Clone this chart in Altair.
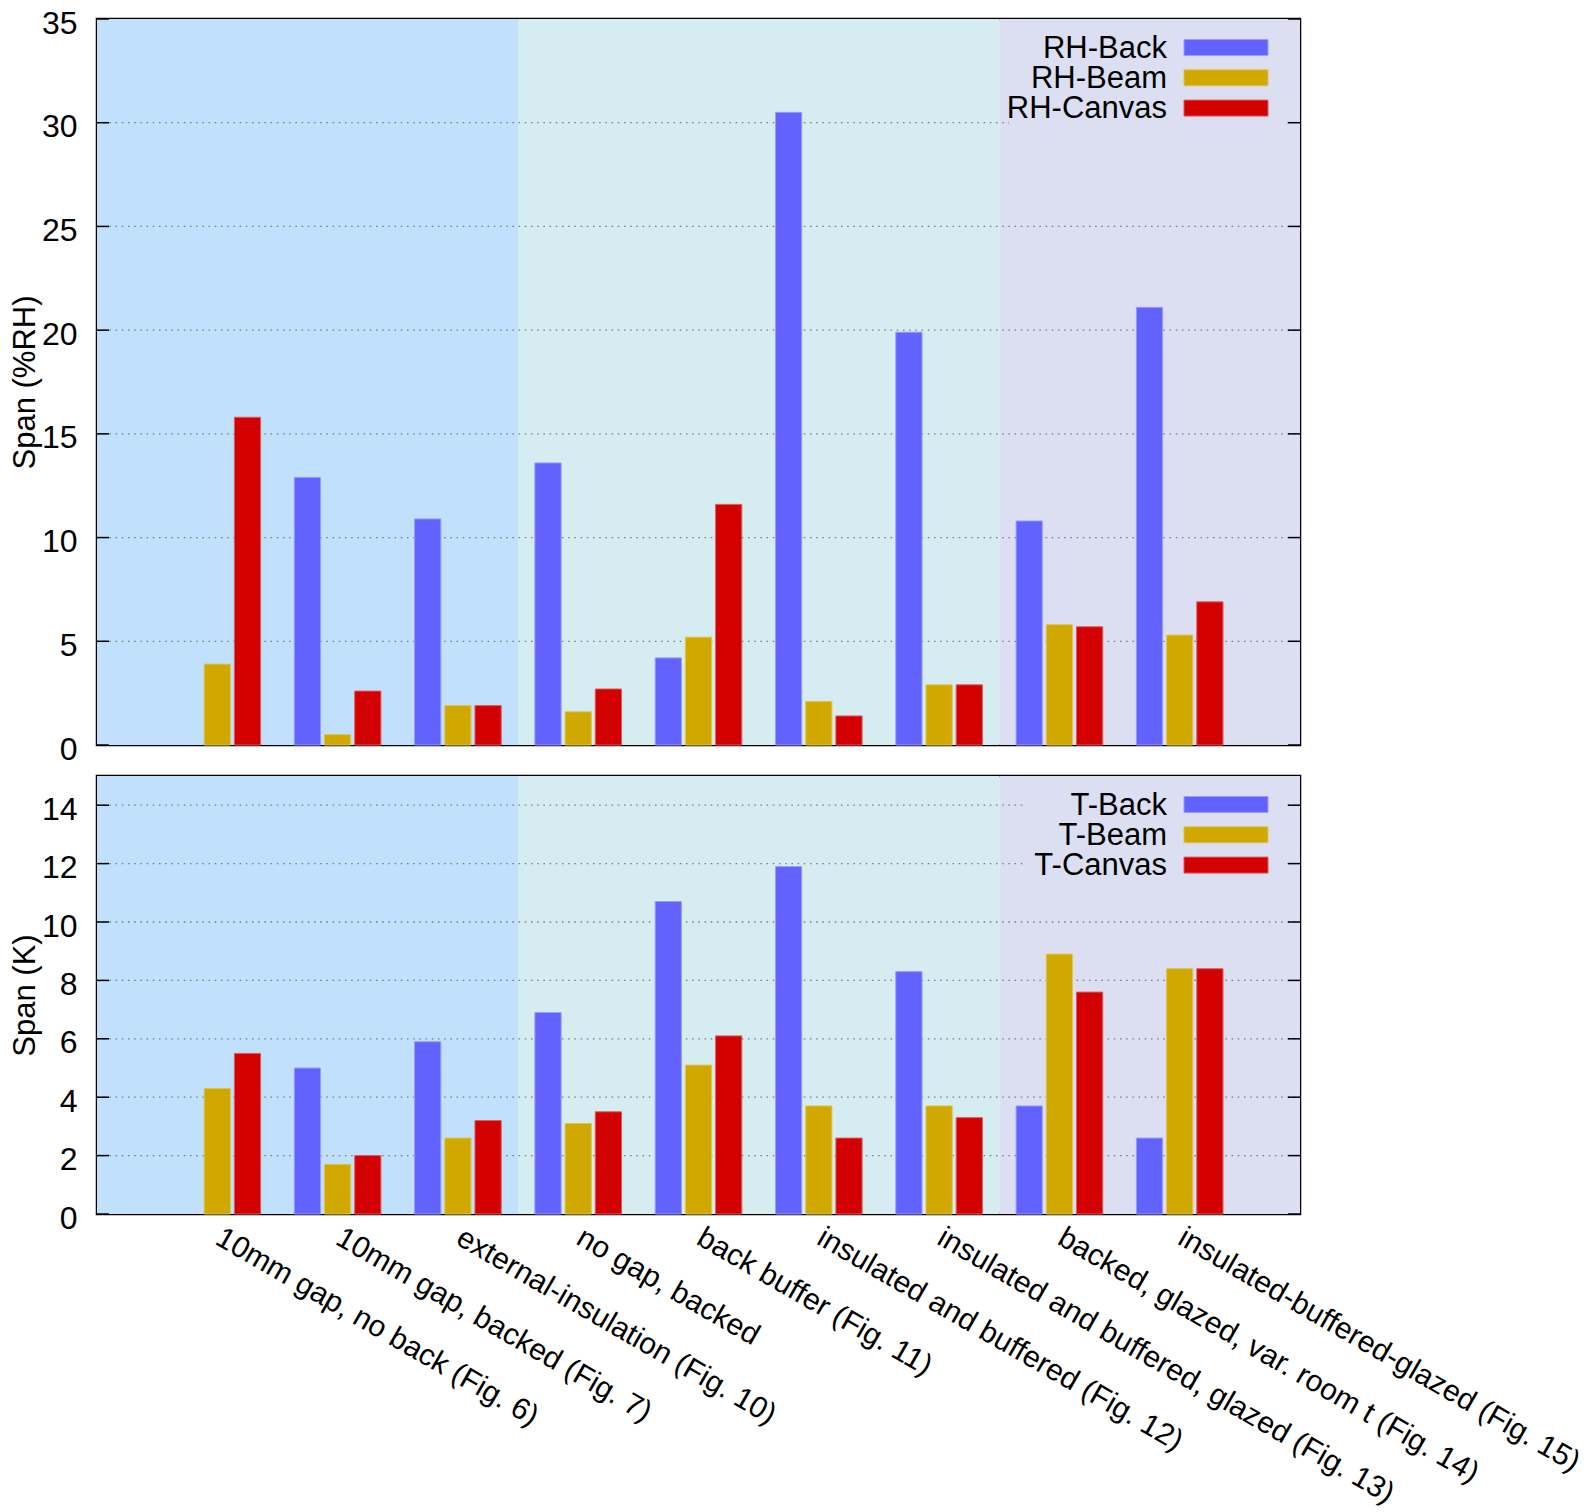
import altair as alt
import pandas as pd

FONT = "Liberation Sans"
FS_TICK = 32
FS_TEXT = 31
FS_XLAB = 30

categories = [
    "10mm gap, no back (Fig. 6)",
    "10mm gap, backed (Fig. 7)",
    "external-insulation (Fig. 10)",
    "no gap, backed",
    "back buffer (Fig. 11)",
    "insulated and buffered (Fig. 12)",
    "insulated and buffered, glazed (Fig. 13)",
    "backed, glazed, var. room t (Fig. 14)",
    "insulated-buffered-glazed (Fig. 15)",
]

rh_series = ["RH-Back", "RH-Beam", "RH-Canvas"]
t_series = ["T-Back", "T-Beam", "T-Canvas"]

rh_back = [None, 12.9, 10.9, 13.6, 4.2, 30.5, 19.9, 10.8, 21.1]
rh_beam = [3.9, 0.5, 1.9, 1.6, 5.2, 2.1, 2.9, 5.8, 5.3]
rh_canvas = [15.8, 2.6, 1.9, 2.7, 11.6, 1.4, 2.9, 5.7, 6.9]

t_back = [None, 5.0, 5.9, 6.9, 10.7, 11.9, 8.3, 3.7, 2.6]
t_beam = [4.3, 1.7, 2.6, 3.1, 5.1, 3.7, 3.7, 8.9, 8.4]
t_canvas = [5.5, 2.0, 3.2, 3.5, 6.1, 2.6, 3.3, 7.6, 8.4]

rh_ticks = [0, 5, 10, 15, 20, 25, 30, 35]
t_ticks = [0, 2, 4, 6, 8, 10, 12, 14]

region_start = [0, 3.5, 7.5]
region_end = [3.5, 7.5, 10]
region_colors = ["#c0e0fb", "#d5ecf0", "#dcdff2"]

bar_colors = ["#6262ff", "#d0a800", "#d20000"]
bar_strokes = ["#9a9aff", "#e0c450", "#e05a5a"]

W = 1203
X_MAX = 10


def panel(series, values_list, ticks, ymax, height, ytitle, show_x, box_left):
    rows = []
    for k, (s, vals) in enumerate(zip(series, values_list)):
        for i, v in enumerate(vals):
            rows.append({"idx": i + 1, "k": k, "series": s, "value": v})
    bars_df = pd.DataFrame(rows)
    regions_df = pd.DataFrame({"start": region_start, "end": region_end,
                               "color": region_colors})
    ticks_df = pd.DataFrame({"t": ticks})
    legend_df = pd.DataFrame({"series": series, "k": list(range(len(series)))})

    x_scale = alt.Scale(domain=[0, X_MAX], nice=False, zero=False)
    y_scale = alt.Scale(domain=[0, ymax], nice=False, zero=False)

    if show_x:
        label_expr = "[''," + ",".join("'" + c + "'" for c in categories) + "][datum.value]"
        x_axis = alt.Axis(values=list(range(1, len(categories) + 1)),
                          labelExpr=label_expr, labelAngle=30,
                          labelAlign="left", labelBaseline="top",
                          labelPadding=8, labelOffset=8,
                          labelFontSize=FS_XLAB, labelFont=FONT,
                          labelColor="black", domain=False, ticks=False,
                          grid=False, title=None, labelOverlap=False,
                          labelFlush=False, labelBound=False, labelLimit=0)
    else:
        x_axis = None

    y_axis = alt.Axis(values=ticks, labelFontSize=FS_TICK, labelFont=FONT,
                      labelColor="black", domain=False, ticks=False,
                      grid=False, labelPadding=20, labelBaseline="top",
                      labelOffset=-11,
                      title=ytitle,
                      titleFont=FONT, titleFontSize=FS_TEXT,
                      titleFontWeight="normal", titleColor="black",
                      titlePadding=0, labelOverlap=False, labelFlush=False)

    bg = alt.Chart(regions_df).mark_rect().transform_calculate(
        y0="0", y1=str(ymax)
    ).encode(
        x=alt.X("start:Q", scale=x_scale, axis=x_axis),
        x2="end:Q",
        y=alt.Y("y0:Q", scale=y_scale, axis=y_axis),
        y2="y1:Q",
        color=alt.Color("color:N", scale=None),
    )

    grid = alt.Chart(ticks_df).transform_filter(
        f"datum.t > 0 && datum.t < {ymax}"
    ).transform_calculate(xa="0", xb=str(X_MAX)).mark_rule(
        color="#7a7a7a", strokeWidth=1.3, strokeDash=[1.5, 4.7]
    ).encode(
        x=alt.X("xa:Q", scale=x_scale, axis=x_axis),
        x2="xb:Q",
        y=alt.Y("t:Q", scale=y_scale, axis=y_axis),
    )

    legend_box = alt.Chart(pd.DataFrame({"a": [0]})).mark_rect(
        color=region_colors[2]
    ).encode(
        x=alt.value(box_left),
        x2=alt.value(1190),
        y=alt.value(2),
        y2=alt.value(112),
    )

    bars = alt.Chart(bars_df).transform_filter(
        "isValid(datum.value)"
    ).transform_calculate(
        xa="datum.idx + (datum.k - 1) * 0.251 - 0.109",
        xb="datum.idx + (datum.k - 1) * 0.251 + 0.109",
        base="0",
    ).mark_rect(strokeWidth=1).encode(
        x=alt.X("xa:Q", scale=x_scale, axis=x_axis),
        x2="xb:Q",
        y=alt.Y("value:Q", scale=y_scale, axis=y_axis),
        y2="base:Q",
        color=alt.Color("series:N", scale=alt.Scale(domain=series, range=bar_colors), legend=None),
        stroke=alt.Stroke("series:N", scale=alt.Scale(domain=series, range=bar_strokes), legend=None),
    )

    left_ticks = alt.Chart(ticks_df).mark_rule(color="black", strokeWidth=1.5).encode(
        x=alt.value(0), x2=alt.value(12),
        y=alt.Y("t:Q", scale=y_scale, axis=y_axis),
    )
    right_ticks = alt.Chart(ticks_df).mark_rule(color="black", strokeWidth=1.5).encode(
        x=alt.value(W - 12), x2=alt.value(W),
        y=alt.Y("t:Q", scale=y_scale, axis=y_axis),
    )

    leg_text = alt.Chart(legend_df).transform_calculate(
        py="29.5 + 30.3 * datum.k"
    ).mark_text(align="right", baseline="middle", font=FONT, fontSize=FS_TEXT,
                color="black").encode(
        x=alt.value(1070),
        y=alt.Y("py:Q", scale=None),
        text="series:N",
    )
    leg_swatch = alt.Chart(legend_df).transform_calculate(
        pa="28.5 + 30.3 * datum.k - 8", pb="28.5 + 30.3 * datum.k + 8"
    ).mark_rect(strokeWidth=1).encode(
        x=alt.value(1087), x2=alt.value(1171),
        y=alt.Y("pa:Q", scale=None),
        y2="pb:Q",
        color=alt.Color("series:N", scale=alt.Scale(domain=series, range=bar_colors), legend=None),
        stroke=alt.Stroke("series:N", scale=alt.Scale(domain=series, range=bar_strokes), legend=None),
    )

    return alt.layer(bg, grid, legend_box, bars, left_ticks, right_ticks,
                     leg_text, leg_swatch).properties(width=W, height=height)


top = panel(rh_series, [rh_back, rh_beam, rh_canvas], rh_ticks, 35, 726,
            "Span (%RH)", False, 912)
bottom = panel(t_series, [t_back, t_beam, t_canvas], t_ticks, 15, 438,
               "Span (K)", True, 930)

chart = alt.vconcat(top, bottom, spacing=31, bounds="flush").properties(
    padding={"left": 0, "top": -3, "right": 0, "bottom": 0}
).configure_view(stroke="black", strokeWidth=2.5)

chart.save("out.html", embed_options={"renderer": "svg", "actions": False})
